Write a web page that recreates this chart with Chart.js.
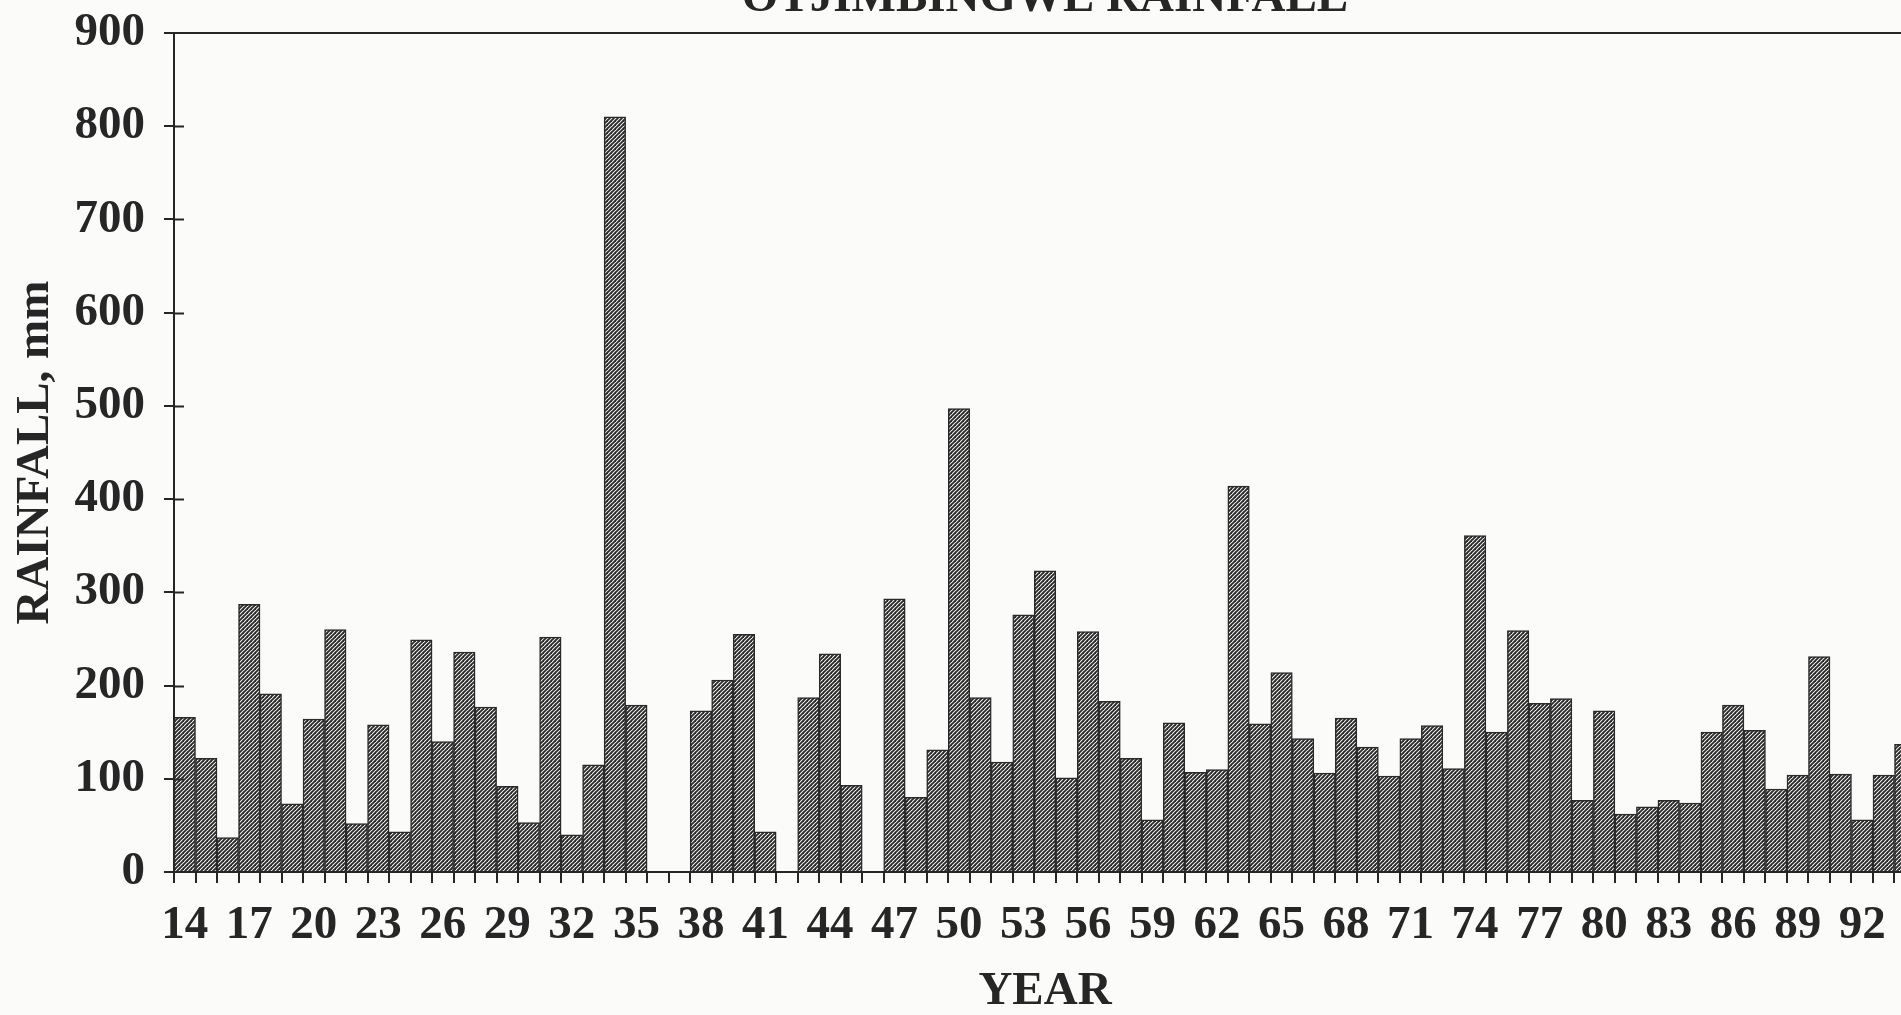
<!DOCTYPE html>
<html>
<head>
<meta charset="utf-8">
<title>Otjimbingwe Rainfall</title>
<script src="https://cdn.jsdelivr.net/npm/chart.js@4.4.1/dist/chart.umd.min.js"></script>
<style>
  html, body { margin: 0; padding: 0; width: 1901px; height: 1015px; overflow: hidden; background: #fbfbfa; }
  #wrap { position: relative; width: 1901px; height: 1015px; overflow: hidden; }
  #chart { position: absolute; left: 0; top: -40px; }
</style>
</head>
<body>
<div id="wrap"><canvas id="chart" width="1940" height="1055"></canvas></div>
<script>
// Years (19xx) shown on the category axis
const years = [
  '14','15','16','17','18','19','20','21','22','23','24','25','26','27','28','29','30','31','32','33',
  '34','35','36','37','38','39','40','41','42','43','44','45','46','47','48','49','50','51','52','53',
  '54','55','56','57','58','59','60','61','62','63','64','65','66','67','68','69','70','71','72','73',
  '74','75','76','77','78','79','80','81','82','83','84','85','86','87','88','89','90','91','92','93','94'
];

// Annual rainfall in mm (null = no record)
const rainfall = [
  166, 122,  37, 287, 191,  73, 164, 260,  52, 158,  43, 249, 140, 236, 177,  92,  53, 252,  40, 115,
  810, 179, null, null, 173, 206, 255,  43, null, 187, 234,  93, null, 293,  80, 131, 497, 187, 118, 276,
  323, 101, 258, 183, 122,  56, 160, 107, 110, 414, 159, 214, 143, 106, 165, 134, 103, 143, 157, 111,
  361, 150, 259, 181, 186,  77, 173,  62,  70,  77,  74, 150, 179, 152,  89, 104, 231, 105,  56, 104, 137
];

// Y-axis tick values
const rainTicks = [0, 100, 200, 300, 400, 500, 600, 700, 800, 900];
// Every third year is labelled
const labelEvery = 3;

const INK = '#262626';
const FONT = 'Liberation Serif, "Times New Roman", serif';

// Diagonal hatch fill for the bars
function hatch() {
  const s = 4;
  const c = document.createElement('canvas');
  c.width = s; c.height = s;
  const g = c.getContext('2d');
  g.fillStyle = '#fbfbfa';
  g.fillRect(0, 0, s, s);
  g.strokeStyle = '#2b2b2b';
  g.lineWidth = 1.9;
  g.lineCap = 'square';
  for (const o of [-s, 0, s]) {
    g.beginPath();
    g.moveTo(o, s);
    g.lineTo(o + s, 0);
    g.stroke();
  }
  return g.createPattern(c, 'repeat');
}

// Tick marks on the y axis cross the axis line
const crossTicks = {
  id: 'crossTicks',
  afterDraw(chart) {
    const y = chart.scales.y;
    const ctx = chart.ctx;
    const x0 = chart.chartArea.left;
    ctx.save();
    ctx.strokeStyle = INK;
    ctx.lineWidth = 2;
    rainTicks.forEach(v => {
      if (v === 0 || v === rainTicks[rainTicks.length - 1]) return;
      const py = Math.round(y.getPixelForValue(v)) + 0.5;
      ctx.beginPath();
      ctx.moveTo(x0, py);
      ctx.lineTo(x0 + 10, py);
      ctx.stroke();
    });
    ctx.restore();
  }
};

const maxTick = rainTicks[rainTicks.length - 1];

new Chart(document.getElementById('chart'), {
  type: 'bar',
  data: {
    labels: years,
    datasets: [{
      data: rainfall,
      backgroundColor: hatch(),
      borderColor: '#2a2a2a',
      borderWidth: 1.5,
      barPercentage: 1,
      categoryPercentage: 1
    }]
  },
  options: {
    responsive: false,
    animation: false,
    devicePixelRatio: 1,
    layout: { padding: { left: 0, right: 24, top: 0, bottom: 0 } },
    plugins: {
      legend: { display: false },
      tooltip: { enabled: false },
      title: {
        display: true,
        fullSize: false,
        text: 'OTJIMBINGWE RAINFALL',
        color: INK,
        font: { family: FONT, size: 47, weight: 'bold', lineHeight: 1.2 },
        padding: { top: 10.8, bottom: 5.8 }
      }
    },
    scales: {
      x: {
        type: 'category',
        afterFit(scale) { scale.height = 143; },
        border: { display: true, color: INK, width: 2 },
        grid: {
          offset: true,
          drawOnChartArea: false,
          drawTicks: true,
          tickLength: 11,
          tickColor: INK,
          lineWidth: 2
        },
        ticks: {
          autoSkip: false,
          maxRotation: 0,
          minRotation: 0,
          padding: 15,
          color: INK,
          font: { family: FONT, size: 47, weight: 'bold' },
          callback(value, index) { return index % labelEvery === 0 ? years[index] : ''; }
        },
        title: {
          display: true,
          text: 'YEAR',
          color: INK,
          font: { family: FONT, size: 47, weight: 'bold', lineHeight: 1 },
          padding: { top: 0, bottom: 0 }
        }
      },
      y: {
        min: 0,
        max: maxTick,
        afterFit(scale) { scale.width = 174; },
        afterBuildTicks(scale) { scale.ticks = rainTicks.map(v => ({ value: v })); },
        border: { display: true, color: INK, width: 2 },
        grid: {
          drawOnChartArea: true,
          drawTicks: true,
          tickLength: 10,
          tickColor: INK,
          lineWidth: 2,
          color: ctx => (ctx.tick && ctx.tick.value === maxTick) ? INK : 'rgba(0,0,0,0)'
        },
        ticks: {
          padding: 19,
          color: INK,
          font: { family: FONT, size: 47, weight: 'bold' }
        },
        title: {
          display: true,
          text: 'RAINFALL, mm',
          color: INK,
          font: { family: FONT, size: 47, weight: 'bold', lineHeight: 1 },
          padding: { top: 12, bottom: 0 }
        }
      }
    }
  },
  plugins: [crossTicks]
});
</script>
</body>
</html>
